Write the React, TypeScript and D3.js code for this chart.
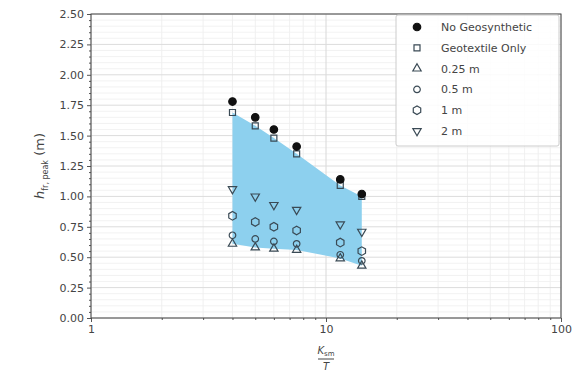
import React, { useEffect, useRef } from 'react';
import * as d3 from 'd3';

const ratios = [4, 5, 6, 7.5, 11.5, 14.2];
const noGeo = [1.78, 1.65, 1.55, 1.41, 1.14, 1.02];
const geotextile = [1.69, 1.58, 1.48, 1.35, 1.09, 1.0];
const m025 = [0.61, 0.58, 0.57, 0.56, 0.49, 0.43];
const m05 = [0.68, 0.65, 0.63, 0.61, 0.52, 0.47];
const m1 = [0.84, 0.79, 0.75, 0.72, 0.62, 0.55];
const m2 = [1.06, 1.0, 0.93, 0.89, 0.77, 0.71];
const yTicks = [0, 0.25, 0.5, 0.75, 1, 1.25, 1.5, 1.75, 2, 2.25, 2.5];
const xTicks = [1, 10, 100];

const seriesNames = ['No Geosynthetic', 'Geotextile Only', '0.25 m', '0.5 m', '1 m', '2 m'];

const hexagon = (r: number) => {
  const pts = d3.range(6).map(i => {
    const a = (Math.PI / 3) * i + Math.PI / 6;
    return [r * Math.cos(a), r * Math.sin(a)];
  });
  return 'M' + pts.map(p => p.join(',')).join('L') + 'Z';
};

const markerPath = (kind: string) => {
  if (kind === 'square') return d3.symbol(d3.symbolSquare, 36)();
  if (kind === 'tri') return d3.symbol(d3.symbolTriangle, 30)();
  if (kind === 'hex') return hexagon(4.3);
  if (kind === 'circle') return d3.symbol(d3.symbolCircle, 34)();
  if (kind === 'tridown') return d3.symbol(d3.symbolTriangle, 30)();
  return d3.symbol(d3.symbolCircle, 44)();
};

export default function App() {
  const svgRef = useRef<SVGSVGElement>(null);

  useEffect(() => {
    const width = 587;
    const height = 379;
    const m = { left: 91, right: 561, top: 14, bottom: 318 };

    const svg = d3.select(svgRef.current);
    svg.selectAll('*').remove();
    svg.attr('width', width).attr('height', height);

    const x = d3.scaleLog().domain([1, 100]).range([m.left, m.right]);
    const y = d3.scaleLinear().domain([0, 2.5]).range([m.bottom, m.top]);

    const grid = svg.append('g');
    // minor grid
    const xMinor = [2, 3, 4, 5, 6, 7, 8, 9, 20, 30, 40, 50, 60, 70, 80, 90];
    grid.selectAll('.xm').data(xMinor).enter().append('line')
      .attr('x1', d => x(d)).attr('x2', d => x(d))
      .attr('y1', m.top).attr('y2', m.bottom)
      .attr('stroke', '#ececec').attr('stroke-width', 0.8);
    const yMinor = d3.range(0, 2.5001, 0.05).filter(v => Math.abs(v / 0.25 - Math.round(v / 0.25)) > 0.01);
    grid.selectAll('.ym').data(yMinor).enter().append('line')
      .attr('x1', m.left).attr('x2', m.right)
      .attr('y1', d => y(d)).attr('y2', d => y(d))
      .attr('stroke', '#efefef').attr('stroke-width', 0.8);
    // major grid
    grid.selectAll('.xM').data(xTicks).enter().append('line')
      .attr('x1', d => x(d)).attr('x2', d => x(d))
      .attr('y1', m.top).attr('y2', m.bottom)
      .attr('stroke', '#d8d8d8').attr('stroke-width', 1);
    grid.selectAll('.yM').data(yTicks).enter().append('line')
      .attr('x1', m.left).attr('x2', m.right)
      .attr('y1', d => y(d)).attr('y2', d => y(d))
      .attr('stroke', '#dcdcdc').attr('stroke-width', 1);

    // shaded band between geotextile-only and 0.25 m
    const area = d3.area<number>()
      .x((d, i) => x(ratios[i]))
      .y0((d, i) => y(m025[i]))
      .y1(d => y(d));
    svg.append('path')
      .attr('d', area(geotextile) as string)
      .attr('fill', '#8dd0ee');

    // axes
    const yAxis = d3.axisLeft(y).tickValues(yTicks).tickFormat(d3.format('.2f')).tickSize(4);
    const ya = svg.append('g').attr('transform', `translate(${m.left},0)`).call(yAxis);
    const yMinorAxis = d3.axisLeft(y).tickValues(yMinor).tickFormat(() => '').tickSize(2);
    svg.append('g').attr('transform', `translate(${m.left},0)`).call(yMinorAxis)
      .call(g => g.select('.domain').remove());
    const xAxis = d3.axisBottom(x).tickValues(xTicks).tickFormat(d3.format('d')).tickSize(4);
    const xa = svg.append('g').attr('transform', `translate(0,${m.bottom})`).call(xAxis);
    const xMinorAxis = d3.axisBottom(x).tickValues(xMinor).tickFormat(() => '').tickSize(2);
    svg.append('g').attr('transform', `translate(0,${m.bottom})`).call(xMinorAxis)
      .call(g => g.select('.domain').remove());

    [ya, xa].forEach(g => {
      g.selectAll('text').attr('fill', '#444').style('font-family', 'DejaVu Sans').style('font-size', '11px');
      g.select('.domain').attr('stroke', 'none');
    });
    svg.selectAll('.tick line').attr('stroke', '#555');

    // frame
    svg.append('rect')
      .attr('x', m.left).attr('y', m.top)
      .attr('width', m.right - m.left).attr('height', m.bottom - m.top)
      .attr('fill', 'none').attr('stroke', '#444').attr('stroke-width', 1);

    // series
    const series = [
      { name: seriesNames[0], values: noGeo, kind: 'dot', fill: '#111' },
      { name: seriesNames[1], values: geotextile, kind: 'square', fill: 'none' },
      { name: seriesNames[2], values: m025, kind: 'tri', fill: 'none' },
      { name: seriesNames[3], values: m05, kind: 'circle', fill: 'none' },
      { name: seriesNames[4], values: m1, kind: 'hex', fill: 'none' },
      { name: seriesNames[5], values: m2, kind: 'tridown', fill: 'none' },
    ];

    const drawMarker = (g: any, kind: string, fill: string, cx: number, cy: number) => {
      g.append('path')
        .attr('d', markerPath(kind))
        .attr('transform', `translate(${cx},${cy})${kind === 'tridown' ? ' rotate(180)' : ''}`)
        .attr('fill', fill)
        .attr('stroke', kind === 'dot' ? '#111' : '#3a4a55')
        .attr('stroke-width', 1.2);
    };

    const marks = svg.append('g');
    series.slice().reverse().forEach(s => {
      s.values.forEach((v, i) => drawMarker(marks, s.kind, s.fill, x(ratios[i]), y(v)));
    });

    // legend
    const lg = svg.append('g');
    lg.append('rect')
      .attr('x', 396).attr('y', 15).attr('width', 163).attr('height', 131)
      .attr('fill', 'white').attr('fill-opacity', 0.85)
      .attr('stroke', '#ccc').attr('rx', 2);
    series.forEach((s, i) => {
      const cy = 27 + i * 20.8;
      drawMarker(lg, s.kind, s.fill, 417, cy);
      lg.append('text')
        .attr('x', 441).attr('y', cy + 4)
        .text(s.name)
        .attr('fill', '#444')
        .style('font-family', 'DejaVu Sans')
        .style('font-size', '11px');
    });

    // y label
    const yl = svg.append('text')
      .attr('transform', 'translate(44,166) rotate(-90)')
      .attr('text-anchor', 'middle')
      .attr('fill', '#444')
      .style('font-family', 'DejaVu Sans')
      .style('font-size', '13px');
    yl.append('tspan').text('h').style('font-style', 'italic');
    yl.append('tspan').text('fr, peak').attr('dy', 4).style('font-size', '8px');
    yl.append('tspan').text(' (m)').attr('dy', -4);

    // x label as fraction
    const xl = svg.append('g').attr('transform', 'translate(326,0)');
    const num = xl.append('text').attr('y', 354).attr('text-anchor', 'middle')
      .attr('fill', '#444').style('font-family', 'DejaVu Sans').style('font-size', '10px');
    num.append('tspan').text('K').style('font-style', 'italic');
    num.append('tspan').text('sm').attr('dy', 2).style('font-size', '7px');
    xl.append('line').attr('x1', -8).attr('x2', 8).attr('y1', 359).attr('y2', 359)
      .attr('stroke', '#444').attr('stroke-width', 1);
    xl.append('text').attr('y', 370).attr('text-anchor', 'middle').text('T')
      .attr('fill', '#444').style('font-family', 'DejaVu Sans').style('font-size', '10px')
      .style('font-style', 'italic');
  }, []);

  return (
    <svg ref={svgRef} style={{ position: 'absolute', left: 0, top: 0, background: 'white' }}></svg>
  );
}
